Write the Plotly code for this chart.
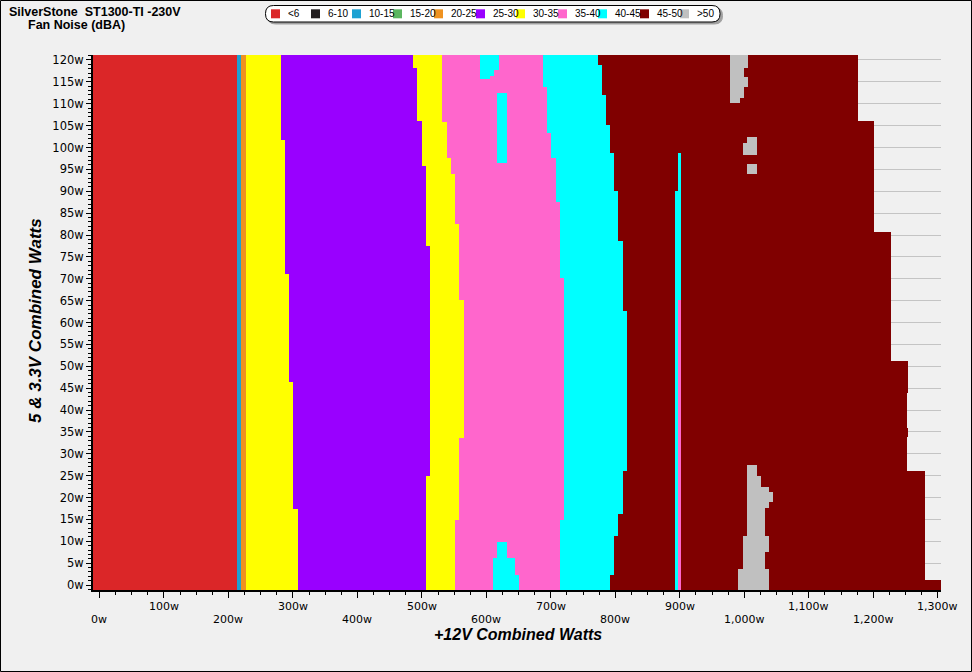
import numpy as np
import plotly.graph_objects as go

# ---------------- figure geometry ----------------
FIG_W, FIG_H = 972, 672
ML, MR, MT, MB = 93, 31, 55, 82
X_RANGE = [-10, 1305]
Y_RANGE = [-1.14, 121.14]

# ---------------- classes ----------------
classes = ["<6", "6-10", "10-15", "15-20", "20-25", "25-30", "30-35", "35-40", "40-45", "45-50", ">50"]
colors = ["#DB2628", "#231F20", "#1DA1D2", "#5BB65F", "#EF9220", "#9900FF",
          "#FFFF00", "#FF66CC", "#00FFFF", "#800000", "#C0C0C0"]

# ---------------- band right edges (W on +12V) as step functions of 5&3.3V load ----------------
# *_y : break points (descending, W of 5&3.3V), *_x : right edge from top to bottom
red_end_y = [];        red_end_x = [212.8]
blue_end_y = [];       blue_end_x = [220.0]
orange_end_y = [];     orange_end_x = [226.8]
yel1_end_y = [101.7, 71.1, 46.3, 17.4]
yel1_end_x = [281.5, 287.7, 293.4, 299.7, 307.4]
purple_end_y = [118.2, 106.0, 95.8, 77.5, 25.0]
purple_end_x = [485.7, 491.9, 500.1, 506.3, 512.5, 506.3]
yel2_end_y = [105.9, 97.7, 93.9, 82.5, 65.1, 33.7, 14.9]
yel2_end_x = [531.2, 538.5, 544.7, 551.4, 557.6, 564.9, 557.6, 551.4]
pink_end_y = [113.9, 103.4, 97.7, 87.5, 70.2, 14.9]
pink_end_x = [688.2, 694.0, 700.2, 707.5, 714.1, 719.9, 714.1]
cyan_end_y = [118.9, 112.0, 105.1, 98.7, 90.1, 78.6, 62.7, 26.1, 16.3, 11.2, 2.3]
cyan_end_x = [773.1, 779.3, 785.5, 791.7, 797.9, 804.1, 811.4, 817.6, 811.4, 804.1, 797.9, 791.7]
maroon_end_y = [106.1, 80.7, 51.2, 43.8, 36.0, 33.9, 26.1, 1.1]
maroon_end_x = [1176.0, 1200.8, 1227.2, 1253.5, 1252.0, 1253.5, 1252.0, 1279.9, 1304.7]

band_classes = [0, 2, 4, 6, 5, 6, 7, 8, 9]
band_edges = [(red_end_y, red_end_x), (blue_end_y, blue_end_x), (orange_end_y, orange_end_x),
              (yel1_end_y, yel1_end_x), (purple_end_y, purple_end_x), (yel2_end_y, yel2_end_x),
              (pink_end_y, pink_end_x), (cyan_end_y, cyan_end_x), (maroon_end_y, maroon_end_x)]

# ---------------- islands: class, x0, x1, y0, y1 ----------------
cyan_islands = [
    (8, 589.9, 619.4, 117.7, 121.14),
    (8, 589.9, 612.2, 116.4, 117.7),
    (8, 589.9, 605.6, 115.7, 116.4),
    (8, 616.0, 631.5, 96.5, 112.4),
    (8, 616.0, 631.5, 6.2, 9.8),
    (8, 609.8, 643.9, 2.2, 6.2),
    (8, 609.8, 650.1, -1.14, 2.2),
    (8, 897.2, 901.3, 90.1, 98.7),
    (8, 893.0, 901.3, 65.1, 90.1),
    (8, 893.0, 897.6, -1.14, 65.1),
]
pink_islands = [
    (7, 897.6, 901.3, -1.14, 65.1),
]
gray_islands = [
    (10, 977.7, 1005.2, 118.2, 121.14),
    (10, 977.7, 999.5, 116.0, 118.2),
    (10, 977.7, 1005.2, 113.9, 116.0),
    (10, 977.7, 999.5, 111.4, 113.9),
    (10, 977.7, 993.3, 110.2, 111.4),
    (10, 1004.6, 1019.6, 98.3, 102.4),
    (10, 997.9, 1004.6, 98.3, 101.0),
    (10, 1004.6, 1019.6, 94.0, 96.2),
    (10, 1004.6, 1019.6, 24.9, 27.4),
    (10, 1004.6, 1025.4, 22.4, 24.9),
    (10, 1004.6, 1038.2, 21.3, 22.4),
    (10, 1004.6, 1044.4, 19.0, 21.3),
    (10, 1004.6, 1038.2, 17.6, 19.0),
    (10, 1004.6, 1032.0, 11.2, 17.6),
    (10, 997.9, 1038.2, 7.5, 11.2),
    (10, 997.9, 1032.0, 3.7, 7.5),
    (10, 990.2, 1038.2, -1.14, 3.7),
]
islands = cyan_islands + pink_islands + gray_islands

# ---------------- build heatmap table ----------------
def step_value(breaks, xs, y):
    k = sum(1 for b in breaks if y < b)
    return xs[k]

xe = {X_RANGE[0], X_RANGE[1]}
ye = {Y_RANGE[0], Y_RANGE[1]}
for by, bx in band_edges:
    xe.update(bx); ye.update(by)
for c, x0, x1, y0, y1 in islands:
    xe.update([x0, x1]); ye.update([y0, y1])
x_edges = sorted(xe)
y_edges = sorted(ye)

z = np.full((len(y_edges) - 1, len(x_edges) - 1), np.nan)
for i in range(len(y_edges) - 1):
    yc = 0.5 * (y_edges[i] + y_edges[i + 1])
    ends = [step_value(by, bx, yc) for by, bx in band_edges]
    for j in range(len(x_edges) - 1):
        xc = 0.5 * (x_edges[j] + x_edges[j + 1])
        val = np.nan
        for e, c in zip(ends, band_classes):
            if xc < e:
                val = c
                break
        for c, x0, x1, y0, y1 in islands:
            if x0 <= xc <= x1 and y0 <= yc <= y1:
                val = c
        z[i, j] = val

n = len(colors)
colorscale = []
for k, c in enumerate(colors):
    colorscale.append([k / n, c])
    colorscale.append([(k + 1) / n, c])

fig = go.Figure()
fig.add_trace(go.Heatmap(
    x=x_edges, y=y_edges, z=z, zmin=-0.5, zmax=n - 0.5,
    colorscale=colorscale, showscale=False, zsmooth=False, hoverinfo="skip"))

# ---------------- axes ----------------
y_ticks = list(range(0, 121, 5))
x_ticks = list(range(0, 1301, 100))

fig.update_xaxes(range=X_RANGE, showgrid=False, zeroline=False, showline=True,
                 linecolor="black", linewidth=2, ticks="outside", ticklen=6,
                 tickcolor="black", tickwidth=1, tickvals=x_ticks, showticklabels=False,
                 minor=dict(dtick=25, tick0=0, ticks="outside", ticklen=3, tickcolor="black",
                            showgrid=False))
fig.update_yaxes(range=Y_RANGE, showgrid=True, gridcolor="#C4C4C4", gridwidth=1,
                 zeroline=False, showline=True, linecolor="black", linewidth=2,
                 ticks="outside", ticklen=5, tickcolor="black", tickwidth=1,
                 tickvals=y_ticks, ticktext=[f"{v}w" for v in y_ticks],
                 tickfont=dict(family="DejaVu Sans", size=11.5, color="black"),
                 minor=dict(dtick=1, tick0=0, ticks="outside", ticklen=3, tickcolor="black",
                            showgrid=False))

PW = FIG_W - ML - MR
PH = FIG_H - MT - MB
def px(xp):
    return (xp - ML) / PW
def py(yp):
    return (FIG_H - MB - yp) / PH

annotations = []
for v in x_ticks:
    upper = (v // 100) % 2 == 1
    annotations.append(dict(x=v, y=0, xref="x", yref="paper", text=f"{v:,}w",
                            showarrow=False, xanchor="center", yanchor="middle",
                            yshift=-16 if upper else -29,
                            font=dict(family="DejaVu Sans", size=11, color="black")))

annotations += [
    dict(x=px(7), y=py(12), xref="paper", yref="paper", text="<b>SilverStone  ST1300-TI -230V</b>",
         showarrow=False, xanchor="left", yanchor="middle",
         font=dict(family="Liberation Sans", size=12.5, color="black")),
    dict(x=px(26), y=py(25), xref="paper", yref="paper", text="<b>Fan Noise (dBA)</b>",
         showarrow=False, xanchor="left", yanchor="middle",
         font=dict(family="Liberation Sans", size=12.5, color="black")),
    dict(x=px(518), y=py(634), xref="paper", yref="paper", text="<b><i>+12V Combined Watts</i></b>",
         showarrow=False, xanchor="center", yanchor="middle",
         font=dict(family="Liberation Sans", size=16, color="black")),
    dict(x=px(35), y=py(321), xref="paper", yref="paper", text="<b><i>5 & 3.3V Combined Watts</i></b>",
         showarrow=False, xanchor="center", yanchor="middle", textangle=-90,
         font=dict(family="Liberation Sans", size=17, color="black")),
]

# ---------------- legend (drawn) ----------------
def rounded_path(x0, y0, x1, y1, r):
    pts = [
        ("M", [(x0 + r, y0)]),
        ("L", [(x1 - r, y0)]),
        ("Q", [(x1, y0), (x1, y0 + r)]),
        ("L", [(x1, y1 - r)]),
        ("Q", [(x1, y1), (x1 - r, y1)]),
        ("L", [(x0 + r, y1)]),
        ("Q", [(x0, y1), (x0, y1 - r)]),
        ("L", [(x0, y0 + r)]),
        ("Q", [(x0, y0), (x0 + r, y0)]),
    ]
    s = ""
    for cmd, ps in pts:
        s += cmd + " " + " ".join(f"{px(a):.6f},{py(b):.6f}" for a, b in ps) + " "
    return s + "Z"

shapes = [
    dict(type="rect", xref="paper", yref="paper", x0=px(0.5), x1=px(971.5), y0=py(0.5), y1=py(671.5),
         line=dict(color="black", width=1), fillcolor="rgba(0,0,0,0)", layer="above"),
    dict(type="path", xref="paper", yref="paper", path=rounded_path(267.5, 7.5, 722.5, 24, 8),
         line=dict(color="#A0A0A0", width=1), fillcolor="#A0A0A0", layer="above"),
    dict(type="path", xref="paper", yref="paper", path=rounded_path(265.5, 5.5, 720, 22, 8),
         line=dict(color="black", width=1), fillcolor="white", layer="above"),
]
swatch_x = [271, 311, 352, 393, 434, 476, 516, 558, 598, 640, 680]
for sx, c, lab in zip(swatch_x, colors, classes):
    shapes.append(dict(type="rect", xref="paper", yref="paper", x0=px(sx), x1=px(sx + 9),
                       y0=py(9.3), y1=py(18.3), fillcolor=c, line=dict(width=0), layer="above"))
    annotations.append(dict(x=px(sx + 15), y=py(13.8), xref="paper", yref="paper", text=lab,
                            showarrow=False, xanchor="left", yanchor="middle",
                            font=dict(family="Liberation Sans", size=10, color="black")))

fig.update_layout(
    width=FIG_W, height=FIG_H,
    margin=dict(l=ML, r=MR, t=MT, b=MB, pad=0),
    paper_bgcolor="#F0F0F0", plot_bgcolor="#F0F0F0",
    showlegend=False, shapes=shapes, annotations=annotations,
)

fig.write_html("out.html", config={"displayModeBar": False},
               post_script="document.body.style.margin='0';document.body.style.padding='0';")
